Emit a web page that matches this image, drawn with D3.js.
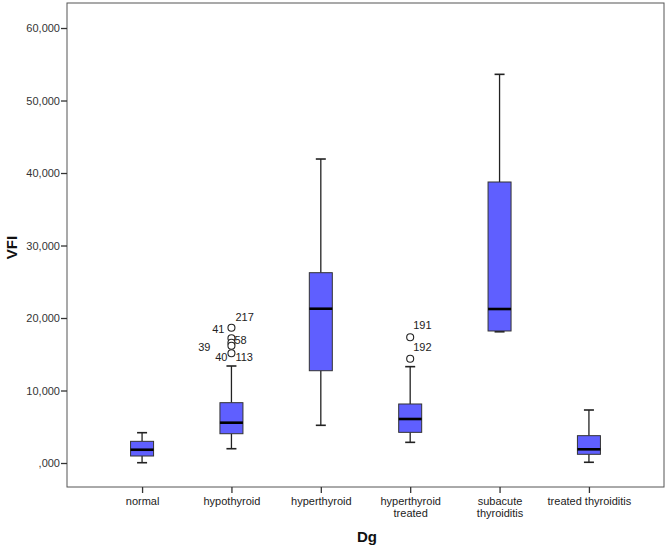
<!DOCTYPE html>
<html>
<head>
<meta charset="utf-8">
<script src="https://cdn.jsdelivr.net/npm/d3@7"></script>
<style>
  body { margin: 0; background: #fff; }
  text { font-family: Arial, "Liberation Sans", sans-serif; }
</style>
</head>
<body>
<div id="chart"></div>
<script>
// categories (two-line labels split on "|")
const categories = ["normal", "hypothyroid", "hyperthyroid", "hyperthyroid|treated", "subacute|thyroiditis", "treated thyroiditis"];
// box statistics per category
const whiskerLow = [40, 1970, 5200, 2850, 18100, 100];
const q1 = [965, 4040, 12730, 4230, 18210, 1200];
const median = [1830, 5560, 21280, 6070, 21240, 1890];
const q3 = [2990, 8320, 26250, 8140, 38760, 3770];
const whiskerHigh = [4180, 13380, 41930, 13290, 53610, 7310];
// outliers: category index, value, case label
const outlierCat = [1, 1, 1, 1, 1, 3, 3];
const outlierValue = [18660, 17200, 16590, 16180, 15130, 17340, 14390];
const outlierLabels = [["217", "41"], ["58"], [], ["39"], ["40", "113"], ["191"], ["192"]];
// y axis ticks
const yTicks = [0, 10000, 20000, 30000, 40000, 50000, 60000];
const yTickLabels = [",000", "10,000", "20,000", "30,000", "40,000", "50,000", "60,000"];

// label offsets around the outlier circle (layout only)
const labelOffset = {
  "217": [4, -7, "start"], "41": [-7, 5, "end"], "58": [3, 6, "start"],
  "39": [-21, 5, "end"], "40": [-4, 8, "end"], "113": [4, 8, "start"],
  "191": [3, -8, "start"], "192": [3, -8, "start"]
};

const W = 666, H = 547;
const margin = { top: 3, right: 2, bottom: 60, left: 67 };
const width = W - margin.left - margin.right;
const height = H - margin.top - margin.bottom;

const svg = d3.select("#chart").append("svg")
  .attr("width", W).attr("height", H);
const g = svg.append("g").attr("transform", `translate(${margin.left},${margin.top})`);

const x = d3.scalePoint().domain(categories).range([0, width]).padding(0.84);
const y = d3.scaleLinear().domain([-3310, 63450]).range([height, 0]);

// frame
g.append("rect").attr("width", width).attr("height", height)
  .attr("fill", "none").attr("stroke", "#555").attr("stroke-width", 1);

// y axis
const yAxis = g.append("g")
  .call(d3.axisLeft(y).tickValues(yTicks).tickSize(6).tickFormat((d, i) => yTickLabels[i]));
yAxis.select(".domain").remove();
yAxis.selectAll("line").attr("stroke", "#333").attr("stroke-width", 1.3);
yAxis.selectAll("text").attr("font-size", 11).attr("fill", "#333").attr("x", -7)
  .attr("font-family", "Arial, 'Liberation Sans', sans-serif");

// x axis
const xAxis = g.append("g").attr("transform", `translate(0,${height})`)
  .call(d3.axisBottom(x).tickSize(6).tickFormat(""));
xAxis.select(".domain").remove();
xAxis.selectAll("line").attr("stroke", "#333").attr("stroke-width", 1.3);
xAxis.selectAll(".tick").each(function (d) {
  const t = d3.select(this).append("text")
    .attr("text-anchor", "middle").attr("font-size", 11).attr("fill", "#222")
    .attr("font-family", "Arial, 'Liberation Sans', sans-serif");
  d.split("|").forEach((s, i) => {
    t.append("tspan").attr("x", 0).attr("y", 18 + i * 12).text(s);
  });
});

// axis titles
svg.append("text").attr("x", 367).attr("y", 542).attr("text-anchor", "middle")
  .attr("font-size", 15).attr("font-weight", "bold").attr("fill", "#111").text("Dg");
svg.append("text").attr("transform", `translate(17,${margin.top + y(30000) + 2}) rotate(-90)`)
  .attr("text-anchor", "middle").attr("font-size", 15).attr("font-weight", "bold")
  .attr("fill", "#111").text("VFI");

// boxes
const boxW = 23, capW = 10;
const boxes = g.selectAll(".box").data(categories).enter().append("g")
  .attr("class", "box")
  .attr("transform", (d) => `translate(${x(d)},0)`);

boxes.append("line").attr("y1", (d, i) => y(whiskerHigh[i])).attr("y2", (d, i) => y(q3[i]))
  .attr("stroke", "#222").attr("stroke-width", 1.3);
boxes.append("line").attr("y1", (d, i) => y(whiskerLow[i])).attr("y2", (d, i) => y(q1[i]))
  .attr("stroke", "#222").attr("stroke-width", 1.3);
boxes.append("line").attr("x1", -capW / 2).attr("x2", capW / 2)
  .attr("y1", (d, i) => y(whiskerHigh[i])).attr("y2", (d, i) => y(whiskerHigh[i]))
  .attr("stroke", "#222").attr("stroke-width", 1.6);
boxes.append("line").attr("x1", -capW / 2).attr("x2", capW / 2)
  .attr("y1", (d, i) => y(whiskerLow[i])).attr("y2", (d, i) => y(whiskerLow[i]))
  .attr("stroke", "#222").attr("stroke-width", 1.6);
boxes.append("rect").attr("x", -boxW / 2).attr("width", boxW)
  .attr("y", (d, i) => y(q3[i])).attr("height", (d, i) => y(q1[i]) - y(q3[i]))
  .attr("fill", "#5f5fff").attr("stroke", "#333").attr("stroke-width", 1);
boxes.append("line").attr("x1", -boxW / 2).attr("x2", boxW / 2)
  .attr("y1", (d, i) => y(median[i])).attr("y2", (d, i) => y(median[i]))
  .attr("stroke", "#000").attr("stroke-width", 2.6);

// outliers
const outliers = outlierValue.map((v, i) => ({
  cat: categories[outlierCat[i]], value: v, labels: outlierLabels[i]
}));
g.selectAll(".outlier").data(outliers).enter().append("circle")
  .attr("class", "outlier")
  .attr("cx", (d) => x(d.cat)).attr("cy", (d) => y(d.value)).attr("r", 3.5)
  .attr("fill", "#fff").attr("stroke", "#222").attr("stroke-width", 1.1);

outliers.forEach((d) => {
  d.labels.forEach((lab) => {
    const [dx, dy, anchor] = labelOffset[lab];
    g.append("text")
      .attr("x", x(d.cat) + dx).attr("y", y(d.value) + dy)
      .attr("text-anchor", anchor).attr("font-size", 11).attr("fill", "#222")
      .text(lab);
  });
});
</script>
</body>
</html>
